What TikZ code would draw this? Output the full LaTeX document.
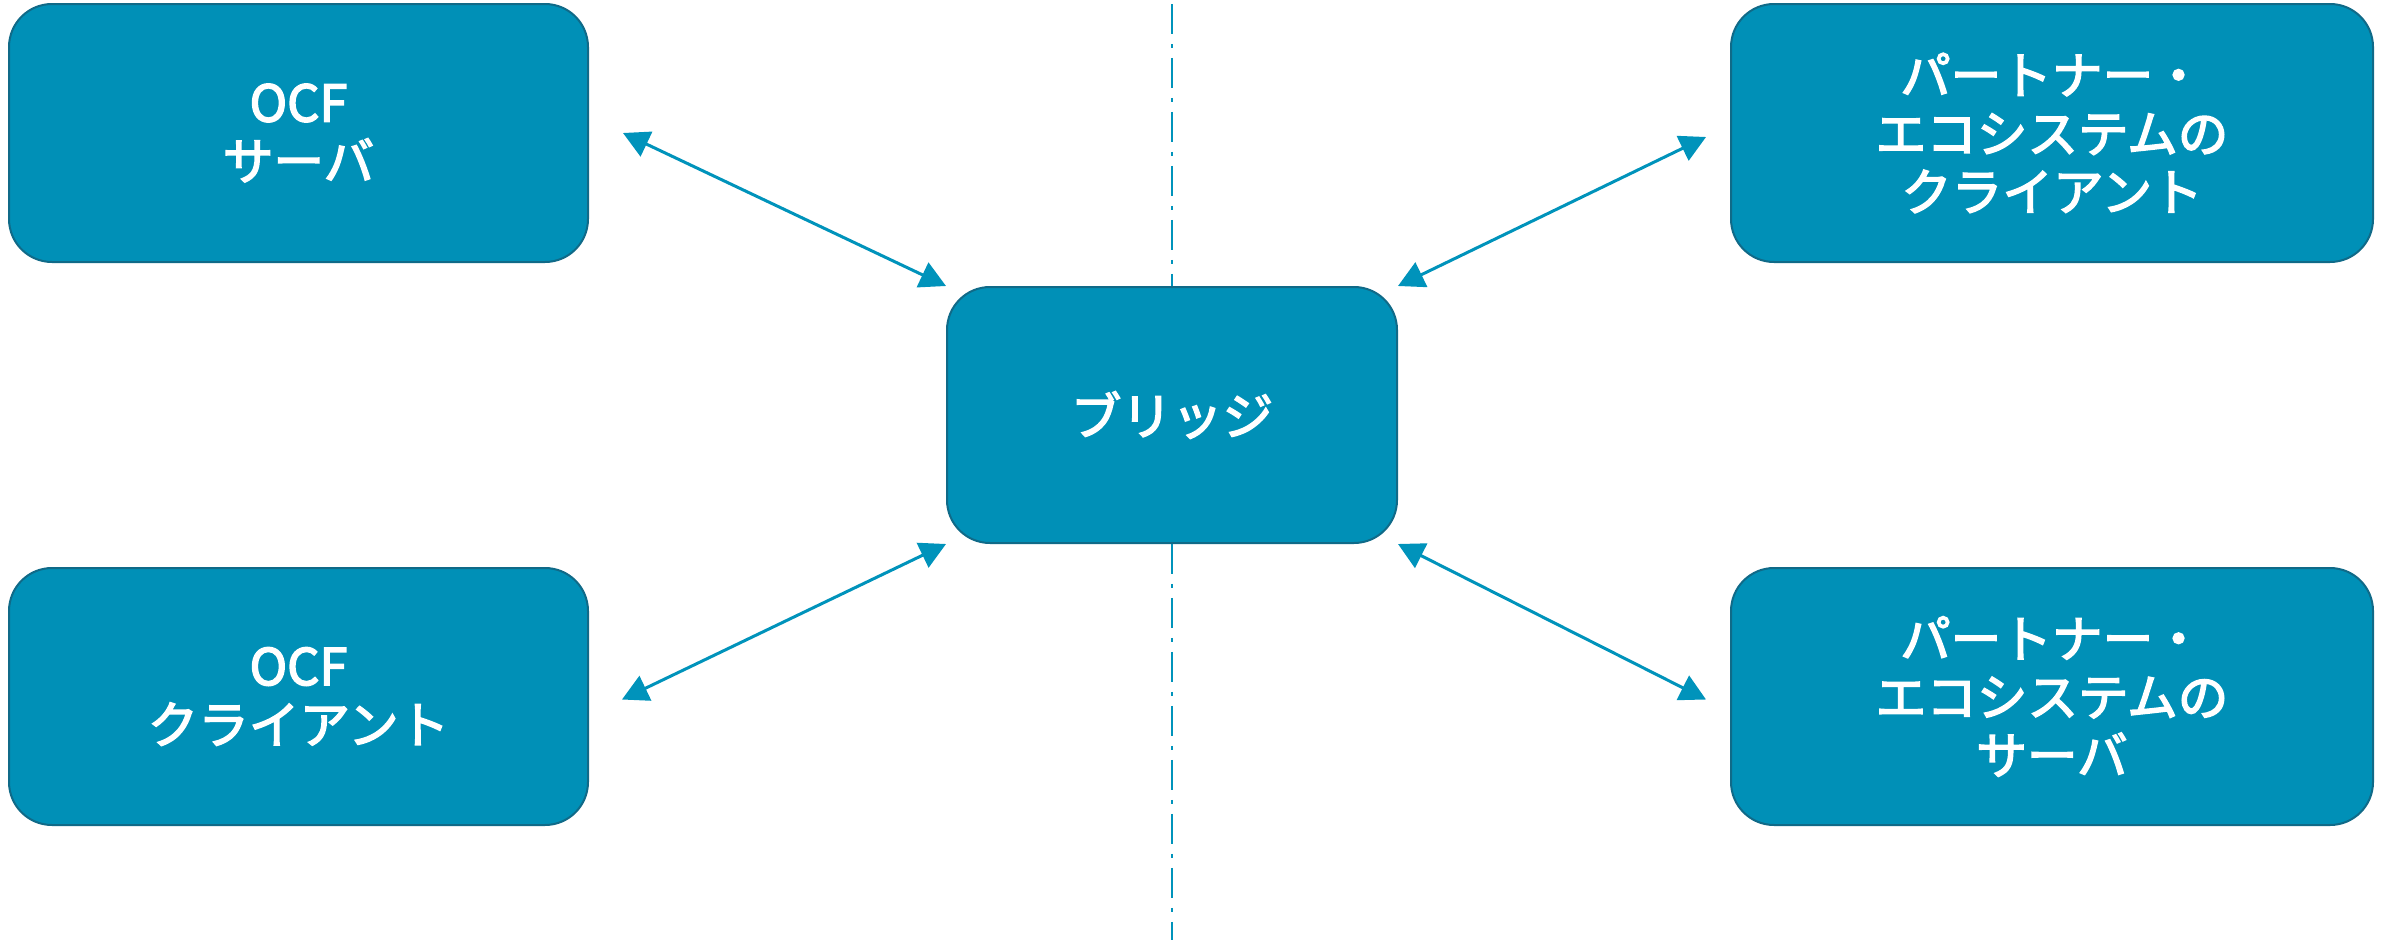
\documentclass[tikz,border=0pt]{standalone}
\usepackage{fontspec}
\setmainfont{Noto Sans CJK JP}
\newfontfamily\jpmed{Noto Sans CJK JP}[FakeBold=3]
\usetikzlibrary{arrows.meta}
\definecolor{boxfill}{RGB}{0,144,183}
\definecolor{boxline}{RGB}{16,106,136}
\definecolor{arrowc}{RGB}{0,147,187}
\begin{document}
\begin{tikzpicture}[x=0.1mm,y=-0.1mm,
  box/.style={draw=boxline, line width=0.2mm, fill=boxfill, rounded corners=4.3mm,
    text=white, align=center, inner sep=0pt,
    font=\jpmed\fontsize{14.4pt}{16.6pt}\selectfont},
  conn/.style={draw=arrowc, line width=0.3mm,
    {Triangle[length=2.6mm,width=2.7mm]}-{Triangle[length=2.6mm,width=2.7mm]}},
  divider/.style={draw=arrowc, line width=0.15mm, dash pattern=on 3mm off 1mm on 0.4mm off 1mm}]
\fill[white] (0,0) rectangle (2388,940);
\useasboundingbox (0,0) rectangle (2388,940);
% divider
\coordinate (divtop) at (1172,4);
\coordinate (divbot) at (1172,940);
\draw[divider] (divtop) -- (divbot);
% boxes
\node[box, minimum width=57.9mm, minimum height=25.8mm] (tl) at (298.5,133) {OCF\\サーバ};
\node[box, minimum width=64.2mm, minimum height=25.8mm] (tr) at (2052,133) {パートナー・\\エコシステムの\\クライアント};
\node[box, minimum width=45mm, minimum height=25.6mm] (c) at (1172,415) {ブリッジ};
\node[box, minimum width=57.9mm, minimum height=25.7mm] (bl) at (298.5,696.5) {OCF\\クライアント};
\node[box, minimum width=64.2mm, minimum height=25.7mm] (br) at (2052,696.5) {パートナー・\\エコシステムの\\サーバ};
% connectors
\draw[conn] ([xshift=3.4mm]tl.east) -- (c.north west);
\draw[conn] ([xshift=-2.4mm,yshift=-0.4mm]tr.west) -- (c.north east);
\draw[conn] ([xshift=3.3mm,yshift=-0.3mm]bl.east) -- (c.south west);
\draw[conn] ([xshift=-2.4mm,yshift=-0.3mm]br.west) -- (c.south east);
\end{tikzpicture}
\end{document}
